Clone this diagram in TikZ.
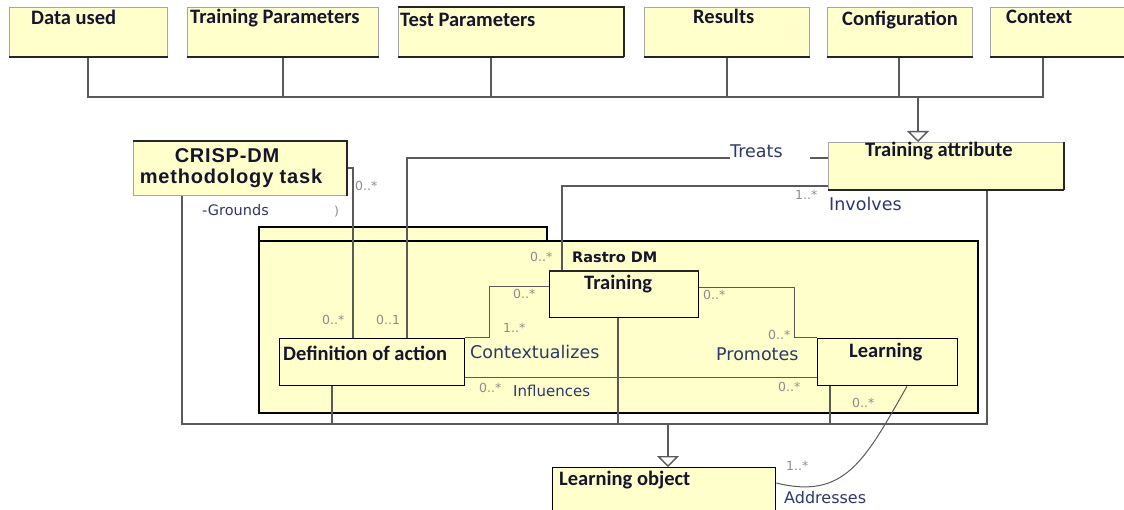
\documentclass[tikz,border=0pt]{standalone}
\usepackage{fontspec}
\usetikzlibrary{arrows.meta,calc}
\newfontfamily\ttlfont{Carlito}
\newfontfamily\lblfont{DejaVu Sans}
\newfontfamily\arifont[LetterSpace=4]{Liberation Sans}
\definecolor{boxfill}{HTML}{FFFFCC}
\definecolor{ttlcol}{HTML}{15152E}
\definecolor{lblcol}{HTML}{2C3868}
\definecolor{mulcol}{HTML}{8C8C8C}
\definecolor{linecol}{HTML}{5A5A5A}
\begin{document}
\begin{tikzpicture}[x=1pt,y=-1pt,
  box/.style={draw=gray!70, line width=0.6pt, fill=boxfill, inner sep=0, anchor=north west},
  ibox/.style={draw=black, line width=1.3pt, fill=boxfill, inner sep=0, anchor=north west},
  pkg/.style={draw=black, line width=2pt, fill=boxfill, inner sep=0, anchor=north west},
  thickedge/.style={draw=black!85, line width=2pt},
  conn/.style={draw=linecol, line width=1.4pt},
  tconn/.style={draw=linecol, line width=1pt},
  gen/.style={conn, -{Triangle[open,width=22pt,length=11pt]}},
  ttl/.style={inner sep=0, anchor=base west, text=ttlcol, font=\ttlfont\bfseries\fontsize{20.5}{22}\selectfont},
  ari/.style={inner sep=0, anchor=base, text=ttlcol, font=\arifont\bfseries\fontsize{20}{22}\selectfont},
  lbl/.style={inner sep=0, anchor=base west, text=lblcol, font=\lblfont\fontsize{17.5}{20}\selectfont},
  slbl/.style={inner sep=0, anchor=base west, text=lblcol, font=\lblfont\fontsize{15}{18}\selectfont},
  mul/.style={inner sep=0, anchor=base west, text=mulcol, font=\lblfont\fontsize{12.5}{14}\selectfont}
]
\useasboundingbox (0,0) rectangle (1124,510);
\clip (0,0) rectangle (1124,510);

% package
\node[pkg, minimum width=288pt, minimum height=14pt] (tab) at (258,226) {};
\node[pkg, minimum width=719pt, minimum height=172pt] (rastro) at (258,240) {};

% junction coordinates
\coordinate (h1) at (88,97);
\coordinate (h2) at (283,97);
\coordinate (h3) at (491,97);
\coordinate (h4) at (727,97);
\coordinate (h5) at (899,97);
\coordinate (h6) at (1043,97);
\coordinate (hub) at (918,97);
\coordinate (b1) at (182,424);
\coordinate (b2) at (332,424);
\coordinate (b3) at (618,424);
\coordinate (b4) at (830,424);
\coordinate (b5) at (987,424);
\coordinate (bhub) at (668,424);
\coordinate (tr1) at (407,158);
\coordinate (iv1) at (562,186);
\coordinate (gr1) at (353,168);
\coordinate (cx1) at (489,287);
\coordinate (pr1) at (794,288);
\coordinate (inf) at (640,377);
\coordinate (ad1) at (907,385);
\coordinate (ad2) at (775,483);

% boxes
\node[box, minimum width=158pt, minimum height=49pt] (du) at (9,7) {};
\node[box, minimum width=191pt, minimum height=49pt] (tp) at (187,7) {};
\node[box, minimum width=225pt, minimum height=49pt] (tep) at (398,7) {};
\node[box, minimum width=165pt, minimum height=49pt] (res) at (644,7) {};
\node[box, minimum width=145pt, minimum height=49pt] (conf) at (827,7) {};
\node[box, minimum width=140pt, minimum height=49pt] (ctx) at (990,7) {};
\node[box, minimum width=235pt, minimum height=47pt] (tattr) at (828,142) {};
\node[box, minimum width=213pt, minimum height=54pt] (crisp) at (133,141) {};
\node[ibox, minimum width=149pt, minimum height=46pt] (train) at (549,271) {};
\node[ibox, minimum width=185pt, minimum height=47pt] (defn) at (279,338) {};
\node[ibox, minimum width=140pt, minimum height=47pt] (learn) at (817,338) {};
\node[ibox, minimum width=223pt, minimum height=60pt] (lobj) at (552,467) {};

% label that a connector refers to
\node[lbl] (treats) at (730,158) {Treats};

% connectors
\draw[conn] (du.south -| h1) -- (h1) -- (h6) -- (ctx.south -| h6);
\draw[conn] (tp.south -| h2) -- (h2);
\draw[conn] (tep.south -| h3) -- (h3);
\draw[conn] (res.south -| h4) -- (h4);
\draw[conn] (conf.south -| h5) -- (h5);
\draw[gen] (hub) -- (tattr.north -| hub);

\draw[conn] (treats.base west) -- (tr1) -- (tr1 |- defn.north);
\draw[conn] (tattr.west |- tr1) -- ++(-18,0);
\draw[conn] (tattr.west |- iv1) -- (iv1) -- (iv1 |- train.north);
\draw[conn] (crisp.east |- gr1) -- (gr1) -- (gr1 |- defn.north);

\draw[conn] (crisp.south -| b1) -- (b1) -- (b5) -- (tattr.south -| b5);
\draw[conn] (defn.south -| b2) -- (b2);
\draw[conn] (train.south -| b3) -- (b3);
\draw[conn] (learn.south -| b4) -- (b4);
\draw[gen] (bhub) -- (lobj.north -| bhub);

\draw[tconn] (defn.north east) -- (cx1 |- defn.north) -- (cx1) -- (train.west |- cx1);
\draw[tconn] (train.east |- pr1) -- (pr1) -- (pr1 |- learn.north) -- (learn.north west);
\draw[tconn] (defn.east |- inf) -- (learn.west |- inf);
\draw[tconn] (learn.south -| ad1) .. controls (865,460) and (845,500) .. (lobj.east |- ad2);

% thick box edges
\foreach \b in {du,tp,tep,res,conf,ctx,tattr}{
  \draw[thickedge] (\b.south west) -- (\b.south east);
}
\draw[thickedge] (tep.north west) -- (tep.north east) -- (tep.south east);
\draw[thickedge] (tattr.north east) -- (tattr.south east);
\draw[thickedge] (crisp.north west) -- (crisp.north east) -- (crisp.south east);
\draw[thickedge] (train.north west) -- (train.north east);

% titles
\node[ttl] (tdu) at (31,25) {Data used};
\node[ttl] (ttp) at (190,24) {Training Parameters};
\node[ttl] (ttep) at (400,27) {Test Parameters};
\node[ttl] (tres) at (693,24) {Results};
\node[ttl] (tconf) at (842,26) {Configuration};
\node[ttl] (tctx) at (1006,24) {Context};
\node[ttl] (ttattr) at (865,157) {Training attribute};
\node[ari] (tcr1) at (227,163) {CRISP-DM};
\node[ari] (tcr2) at (231,184) {methodology task};
\node[inner sep=0, anchor=base west, text=ttlcol, font=\lblfont\bfseries\fontsize{14.5}{16}\selectfont] (trastro) at (572,263) {Rastro DM};
\node[ttl] (ttrain) at (584,290) {Training};
\node[ttl] (tdefn) at (283,360) {Definition of action};
\node[ttl] (tlearn) at (849,358) {Learning};
\node[ttl] (tlobj) at (559,485) {Learning object};

% association labels
\node[lbl] (linv) at (829,211) {Involves};
\node[slbl, font=\lblfont\fontsize{14.5}{16}\selectfont] (lgr) at (202,216) {-Grounds};
\node[mul] (lgrp) at (334,216) {)};
\node[lbl] (lctx) at (470,359) {Contextualizes};
\node[lbl] (lpro) at (716,361) {Promotes};
\node[slbl] (linf) at (513,396) {Influences};
\node[slbl, font=\lblfont\fontsize{16}{18}\selectfont] (ladd) at (784,503) {Addresses};

% multiplicities
\node[mul] (m1) at (355,191) {0..*};
\node[mul] (m2) at (530,262) {0..*};
\node[mul] (m3) at (795,200) {1..*};
\node[mul] (m4) at (322,325) {0..*};
\node[mul] (m5) at (376,325) {0..1};
\node[mul] (m6) at (513,299) {0..*};
\node[mul] (m7) at (503,333) {1..*};
\node[mul] (m8) at (479,392) {0..*};
\node[mul] (m9) at (703,300) {0..*};
\node[mul] (m10) at (768,340) {0..*};
\node[mul] (m11) at (778,391) {0..*};
\node[mul] (m12) at (852,407) {0..*};
\node[mul] (m13) at (786,470) {1..*};
\end{tikzpicture}
\end{document}
